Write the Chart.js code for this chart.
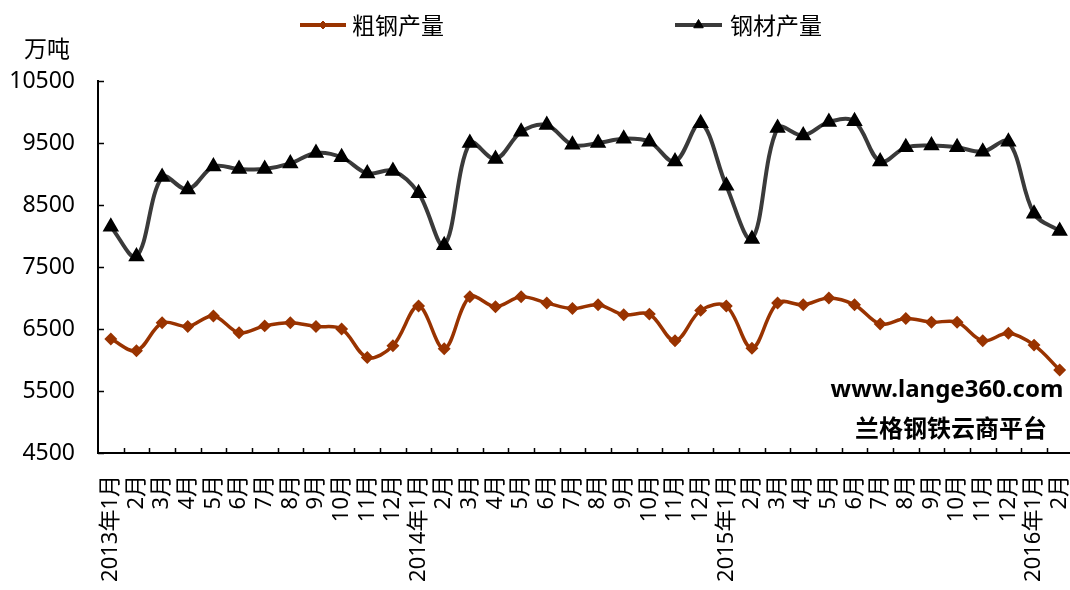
<!DOCTYPE html>
<html>
<head>
<meta charset="utf-8">
<title>粗钢产量与钢材产量</title>
<script src="https://cdn.jsdelivr.net/npm/chart.js@4.4.1/dist/chart.umd.min.js"></script>
<style>
  html, body { margin: 0; padding: 0; background: #ffffff; overflow: hidden; }
  #wrap { width: 1070px; height: 590px; position: relative; overflow: hidden; }
  #chart { position: absolute; left: 0; top: 0; }
</style>
</head>
<body>
<div id="wrap"><canvas id="chart" width="1082" height="590"></canvas></div>
<script>
// Monthly output, 万吨
const monthLabels = [
  '2013年1月', '2月', '3月', '4月', '5月', '6月', '7月', '8月', '9月', '10月', '11月', '12月',
  '2014年1月', '2月', '3月', '4月', '5月', '6月', '7月', '8月', '9月', '10月', '11月', '12月',
  '2015年1月', '2月', '3月', '4月', '5月', '6月', '7月', '8月', '9月', '10月', '11月', '12月',
  '2016年1月', '2月'
];

const crudeSteel = [
  6340, 6150, 6600, 6540, 6710, 6440, 6550, 6600, 6540, 6500, 6040, 6230,
  6870, 6180, 7020, 6860, 7020, 6920, 6830, 6890, 6730, 6740, 6310, 6800,
  6870, 6190, 6920, 6890, 7000, 6890, 6580, 6670, 6610, 6610, 6310, 6430,
  6240, 5840
];

const steelProducts = [
  8150, 7670, 8950, 8750, 9120, 9080, 9080, 9170, 9340, 9270, 9010, 9050,
  8690, 7850, 9500, 9240, 9680, 9790, 9470, 9500, 9570, 9520, 9200, 9820,
  8810, 7950, 9740, 9620, 9840, 9850, 9200, 9430, 9460, 9430, 9360, 9520,
  8360, 8080
];

const yTicks = [4500, 5500, 6500, 7500, 8500, 9500, 10500];

const FONT = "'Noto Sans', 'Noto Sans CJK SC', sans-serif";
const CJK = "'Noto Sans CJK SC', 'Noto Sans', sans-serif";

// Inward tick marks, legend, unit label and site caption
const decor = {
  id: 'decor',
  afterDraw(chart) {
    const ctx = chart.ctx;
    const xs = chart.scales.x;
    const ys = chart.scales.y;
    const area = chart.chartArea;
    ctx.save();
    ctx.strokeStyle = '#000';
    ctx.lineWidth = 1.5;
    ctx.beginPath();
    for (let i = 1; i <= monthLabels.length; i++) {
      const px = Math.round(xs.getPixelForValue(i - 0.5)) + 0.5;
      ctx.moveTo(px, area.bottom);
      ctx.lineTo(px, area.bottom - 5);
    }
    yTicks.forEach(v => {
      const py = Math.round(ys.getPixelForValue(v)) + 0.5;
      ctx.moveTo(area.left, py);
      ctx.lineTo(area.left + 6, py);
    });
    ctx.stroke();

    // legend
    const legendItems = [
      { ds: chart.data.datasets[0], x0: 300, x1: 346, tx: 352 },
      { ds: chart.data.datasets[1], x0: 675, x1: 722, tx: 730 }
    ];
    const ly = 25;
    legendItems.forEach(it => {
      ctx.strokeStyle = it.ds.borderColor;
      ctx.lineWidth = 4;
      ctx.beginPath();
      ctx.moveTo(it.x0, ly);
      ctx.lineTo(it.x1, ly);
      ctx.stroke();
      ctx.fillStyle = it.ds.pointBackgroundColor;
      ctx.strokeStyle = it.ds.pointBorderColor;
      ctx.lineWidth = 1;
      Chart.helpers.drawPoint(ctx, {
        pointStyle: it.ds.pointStyle,
        radius: it.ds.pointRadius,
        rotation: 0,
        borderWidth: 1
      }, (it.x0 + it.x1) / 2, ly);
      ctx.fillStyle = '#000';
      ctx.font = '23px ' + CJK;
      ctx.textAlign = 'left';
      ctx.textBaseline = 'middle';
      ctx.fillText(it.ds.label, it.tx, ly);
    });

    // unit
    ctx.fillStyle = '#000';
    ctx.font = '23px ' + CJK;
    ctx.textAlign = 'center';
    ctx.textBaseline = 'middle';
    ctx.fillText('万吨', 47, 48);

    // caption
    ctx.font = 'bold 24px ' + FONT;
    ctx.fillText('www.lange360.com', 947, 390);
    ctx.font = 'bold 24px ' + CJK;
    ctx.fillText('兰格钢铁云商平台', 951, 428);
    ctx.restore();
  }
};

new Chart(document.getElementById('chart'), {
  type: 'line',
  data: {
    labels: monthLabels,
    datasets: [
      {
        label: '粗钢产量',
        data: crudeSteel,
        borderColor: '#993300',
        backgroundColor: '#993300',
        pointBackgroundColor: '#993300',
        pointBorderColor: '#993300',
        borderWidth: 3.5,
        pointStyle: 'rectRot',
        pointRadius: 4,
        tension: 0.35,
        fill: false
      },
      {
        label: '钢材产量',
        data: steelProducts,
        borderColor: '#3a3a3a',
        backgroundColor: '#000000',
        pointBackgroundColor: '#000000',
        pointBorderColor: '#000000',
        borderWidth: 4,
        pointStyle: 'triangle',
        pointRadius: 5.5,
        tension: 0.35,
        fill: false
      }
    ]
  },
  options: {
    responsive: false,
    animation: false,
    devicePixelRatio: 1,
    layout: { padding: { top: 81, right: 0, bottom: 0, left: 0 } },
    plugins: {
      legend: { display: false },
      tooltip: { enabled: false }
    },
    scales: {
      x: {
        type: 'category',
        offset: true,
        grid: { display: false, drawTicks: false, offset: true },
        border: { display: true, color: '#000', width: 2 },
        ticks: {
          autoSkip: false,
          minRotation: 90,
          maxRotation: 90,
          padding: 22,
          color: '#000',
          font: { size: 22, family: FONT }
        },
        afterFit(s) { s.height = 137; s.paddingLeft = 0; s.paddingRight = 0; }
      },
      y: {
        min: 4500,
        max: 10500,
        afterBuildTicks(s) { s.ticks = yTicks.map(v => ({ value: v })); },
        grid: { display: false, drawTicks: false },
        border: { display: true, color: '#000', width: 2 },
        ticks: {
          padding: 23,
          color: '#000',
          font: { size: 23, family: FONT },
          callback: v => String(v)
        },
        afterFit(s) { s.width = 98; }
      }
    }
  },
  plugins: [decor]
});
</script>
</body>
</html>
